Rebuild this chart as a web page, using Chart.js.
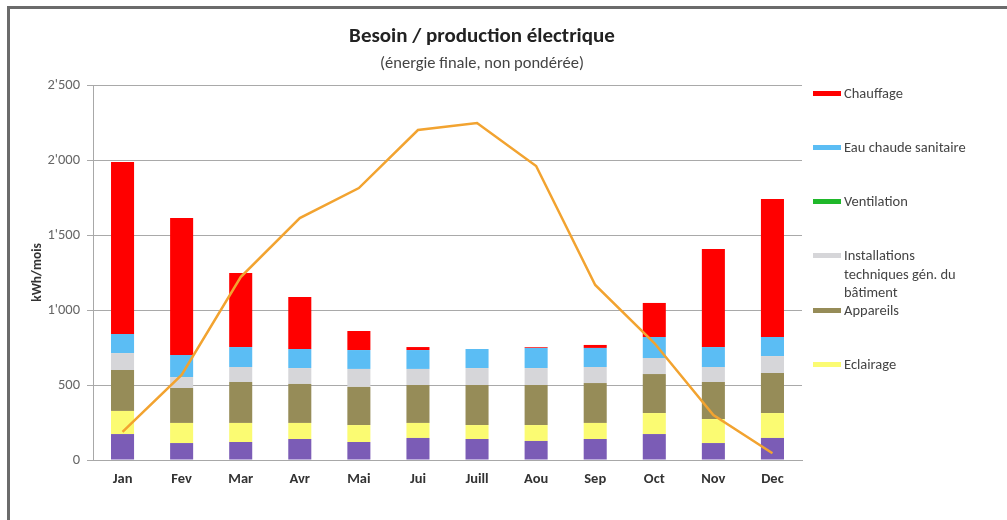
<!DOCTYPE html>
<html>
<head>
<meta charset="utf-8">
<script src="https://cdn.jsdelivr.net/npm/chart.js@4.4.1/dist/chart.umd.min.js"></script>
<style>
    body { margin: 0; background: #fff; font-family: Calibri, Carlito, "Open Sans", sans-serif; }
    #wrap { position: relative; width: 1007px; height: 520px; overflow: hidden; }
    #frame { position: absolute; left: 7px; top: 6px; width: 1010px; height: 520px; border-left: 3px solid #6b6b6b; border-top: 3px solid #6b6b6b; box-sizing: border-box; }
    #chart { position: absolute; left: 0; top: 0; }
    .title { position: absolute; left: 0; width: 964px; text-align: center; color: #222; }
    #legend { position: absolute; left: 813px; top: 84px; font-size: 14.5px; color: #444; }
    .item { position: absolute; left: 0; width: 190px; }
    .sw { position: absolute; left: 0; top: 7px; width: 28px; height: 5px; }
    .lbl { position: absolute; left: 31px; top: 0; line-height: 18.5px; white-space: nowrap; }
</style>
</head>
<body>
<div id="wrap">
    <div id="frame"></div>
    <canvas id="chart" width="1007" height="520"></canvas>
    <div class="title" style="top:22px;font-size:21px;font-weight:bold;">Besoin / production électrique</div>
    <div class="title" style="top:52px;font-size:16.5px;color:#444;">(énergie finale, non pondérée)</div>
    <div id="legend"></div>
</div>
<script>
// months
var months = ['Jan', 'Fev', 'Mar', 'Avr', 'Mai', 'Jui', 'Juill', 'Aou', 'Sep', 'Oct', 'Nov', 'Dec'];

// stacked consumption, kWh/mois (bottom to top)
var autres       = [173, 113, 120, 140, 120, 147, 140, 127, 140, 173, 113, 147];
var eclairage    = [154, 134, 127, 107, 113, 100,  93, 106, 107, 140, 160, 166];
var appareils    = [273, 233, 273, 260, 254, 253, 267, 267, 266, 260, 247, 267];
var installations= [113,  73, 100, 106, 120, 107, 113, 113, 107, 107, 100, 113];
var ventilation  = [  0,   0,   0,   0,   0,   0,   0,   0,   0,   0,   0,   0];
var eauChaude    = [127, 147, 133, 127, 126, 126, 127, 134, 127, 140, 133, 127];
var chauffage    = [1147, 913, 494, 347, 127, 20,   0,   5,  20, 227, 654, 920];

// production (line)
var production   = [187, 567, 1220, 1613, 1813, 2200, 2247, 1960, 1167, 780, 300, 45];

var yTicks = [0, 500, 1000, 1500, 2000, 2500];

var legendItems = [
    { text: 'Chauffage', color: '#ff0000', top: 0 },
    { text: 'Eau chaude sanitaire', color: '#5bbdf4', top: 54 },
    { text: 'Ventilation', color: '#1fb82a', top: 108 },
    { text: 'Installations<br>techniques gén. du<br>bâtiment', color: '#d6d6d9', top: 162 },
    { text: 'Appareils', color: '#968c58', top: 217 },
    { text: 'Eclairage', color: '#fbfb72', top: 271 }
];

var legend = document.getElementById('legend');
legendItems.forEach(function (it) {
    var d = document.createElement('div');
    d.className = 'item';
    d.style.top = it.top + 'px';
    d.innerHTML = '<span class="sw" style="background:' + it.color + '"></span><span class="lbl">' + it.text + '</span>';
    legend.appendChild(d);
});

function fmt(v) {
    var s = String(v);
    if (s.length > 3) s = s.slice(0, s.length - 3) + "'" + s.slice(s.length - 3);
    return s;
}

function barSet(label, data, color) {
    return {
        type: 'bar', label: label, data: data, backgroundColor: color,
        stack: 'conso', order: 2, barPercentage: 0.39, categoryPercentage: 1
    };
}

var fam = 'Calibri, Carlito, "Open Sans", sans-serif';

new Chart(document.getElementById('chart'), {
    data: {
        labels: months,
        datasets: [
            {
                type: 'line', label: 'Production', data: production,
                borderColor: '#f2a330', borderWidth: 2.5, pointRadius: 0,
                tension: 0, order: 1
            },
            barSet('Autres', autres, '#7b5cb6'),
            barSet('Eclairage', eclairage, '#fbfb72'),
            barSet('Appareils', appareils, '#968c58'),
            barSet('Installations techniques gén. du bâtiment', installations, '#d6d6d9'),
            barSet('Ventilation', ventilation, '#1fb82a'),
            barSet('Eau chaude sanitaire', eauChaude, '#5bbdf4'),
            barSet('Chauffage', chauffage, '#ff0000')
        ]
    },
    options: {
        responsive: false,
        animation: false,
        layout: { padding: { top: 85, right: 205, bottom: 0, left: 0 } },
        plugins: {
            legend: { display: false },
            tooltip: { enabled: false }
        },
        scales: {
            x: {
                stacked: true,
                grid: { display: false, drawTicks: false },
                border: { color: '#a8a8a8', width: 1 },
                ticks: { color: '#333', padding: 11, font: { size: 14.5, weight: 'bold', family: fam } },
                afterFit: function (scale) { scale.height = 60; }
            },
            y: {
                stacked: true,
                min: 0, max: 2500,
                afterBuildTicks: function (scale) { scale.ticks = yTicks.map(function (v) { return { value: v }; }); },
                grid: { color: '#a9a9a9', lineWidth: 1, tickLength: 6 },
                border: { color: '#a8a8a8', width: 1 },
                ticks: {
                    color: '#666', padding: 7,
                    font: { size: 14.5, family: fam },
                    callback: function (v) { return fmt(v); }
                },
                title: {
                    display: true, text: 'kWh/mois', color: '#333', padding: { top: 30, bottom: 8 },
                    font: { size: 13.5, weight: 'bold', family: fam }
                },
                afterFit: function (scale) { scale.width = 93; }
            }
        }
    }
});
</script>
</body>
</html>
